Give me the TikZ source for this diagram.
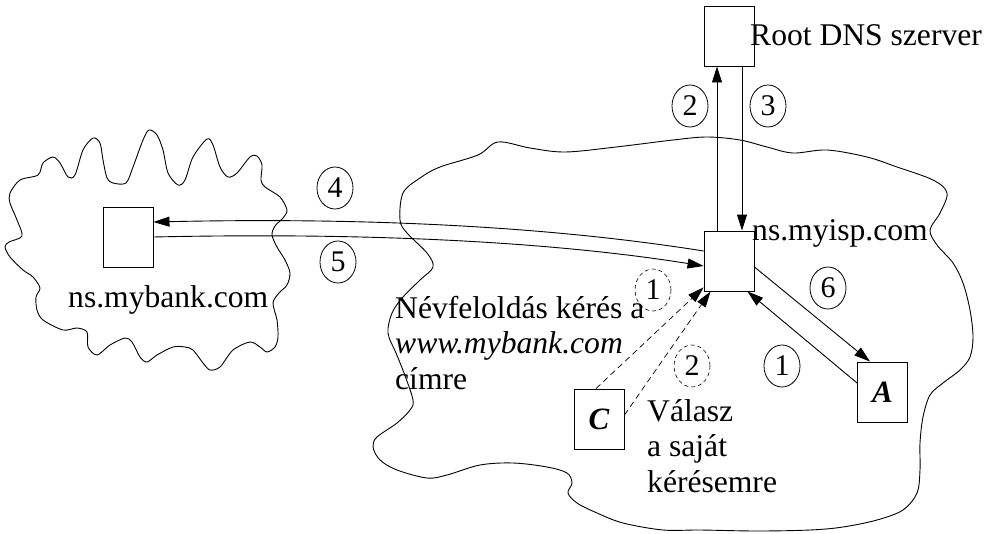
\documentclass[tikz,border=0pt]{standalone}
\usepackage{fontspec}
\setmainfont{Liberation Serif}
\usetikzlibrary{arrows.meta,calc,shapes.geometric}

\tikzset{
  txt/.style={inner sep=0pt, font=\fontsize{31.6}{35.5}\selectfont},
  server/.style={draw, line width=0.9pt, minimum width=50pt, minimum height=60pt, inner sep=0pt},
  host/.style={server, font=\fontsize{31}{31}\selectfont\bfseries\itshape},
  numc/.style={draw, ellipse, line width=0.8pt, minimum width=36pt, minimum height=42pt, inner sep=0pt,
               font=\fontsize{30}{30}\selectfont},
  dnumc/.style={numc, dash pattern=on 4pt off 3pt, line width=0.6pt},
  link/.style={line width=0.9pt, -{Triangle[length=16pt,width=10pt]}},
  dlink/.style={line width=0.7pt, dash pattern=on 6pt off 4pt, -{Triangle[length=16pt,width=10pt]}}
}

\begin{document}
\begin{tikzpicture}[x=1pt,y=-1pt]
\useasboundingbox (0,0) rectangle (996,533);

% provider network
\draw[line width=0.9pt] plot[smooth cycle, tension=0.55] coordinates {
  (440,167) (478,155) (498,142) (530,148) (565,152) (616,147) (673,140) (707,137)
  (740,140) (767,147) (793,153) (827,150) (867,157) (897,167) (933,180) (947,193)
  (940,213) (930,230) (937,245) (953,263) (963,283) (970,310) (973,337) (970,357)
  (960,370) (943,383) (930,395) (923,417) (920,443) (920,470) (917,493) (903,510)
  (877,520) (843,527) (810,530) (757,531) (700,530) (663,530) (623,523) (597,513)
  (577,503) (568,493) (572,483) (567,473) (547,467) (513,463) (480,465) (447,475)
  (427,478) (397,470) (380,460) (373,447) (377,437) (397,423) (410,410) (413,400)
  (404,373) (396,353) (388,333) (392,313) (403,297) (420,280) (433,267) (427,253)
  (407,233) (400,220) (403,193) (420,178)};

% bank network
\draw[line width=0.9pt] plot[smooth cycle, tension=0.5] coordinates {
  (10,193) (20,180) (38,175) (43,163) (53,157) (60,163) (68,177) (75,175)
  (83,150) (93,138) (100,143) (103,160) (107,178) (113,183) (126,183) (133,167)
  (143,140) (149,130) (157,135) (163,150) (168,173) (178,185) (185,180) (193,157)
  (207,139) (213,145) (220,167) (228,177) (237,173) (250,157) (257,156) (262,165)
  (261,180) (265,187) (280,197) (287,210) (283,218) (275,226) (272,235) (277,247)
  (285,260) (290,273) (287,285) (279,293) (273,303) (277,320) (278,337) (275,347)
  (267,352) (260,347) (250,342) (233,350) (220,367) (210,370) (203,363) (193,350)
  (185,347) (173,347) (157,355) (147,362) (140,357) (132,342) (125,338) (110,345)
  (97,355) (88,347) (87,332) (77,328) (63,330) (43,320) (37,310) (36,297)
  (40,288) (33,277) (23,270) (10,257) (5,247) (9,242) (22,236) (17,220) (10,203)};

% servers and hosts
\node[server] (root) at (729,36) {};
\node[server] (isp)  at (729,261) {};
\node[server] (bank) at (128,237) {};
\node[host]   (A)    at (882.5,392) {A};
\node[host]   (C)    at (599,419) {C};

% labels (multi-line nodes are placed by the baseline of their last line)
\node[txt, anchor=base west] (lroot) at (750,45) {Root DNS szerver};
\node[txt, anchor=base west] (lisp)  at (752,240) {ns.myisp.com};
\node[txt, anchor=base west] (lbank) at (68,307) {ns.mybank.com};
\node[txt, anchor=base west, align=left] (lreq) at (395,389)
  {Névfeloldás kérés a\\\textit{www.mybank.com}\\címre};
\node[txt, anchor=base west, align=left] (lans) at (647,492)
  {Válasz\\a saját\\kérésemre};

% step numbers
\node[numc]  (n2)  at (690,106) {2};
\node[numc]  (n3)  at (768,106) {3};
\node[numc]  (n4)  at (335,188) {4};
\node[numc]  (n5)  at (338,262) {5};
\node[numc]  (n6)  at (828,288) {6};
\node[numc]  (n1)  at (782,366) {1};
\node[dnumc] (d1)  at (653,290) {1};
\node[dnumc] (d2)  at (692,366) {2};

% queries and answers
\draw[link] ($(isp.north)+(-12,0)$) -- ($(root.south)+(-12,0)$);
\draw[link] ($(root.south)+(13,0)$) -- ($(isp.north)+(13,0)$);
\draw[link] ($(isp.west)+(0,-10)$) .. controls +(-144,-23) and +(227,-5) .. ($(bank.east)+(0,-15)$);
\draw[link] (bank.east) .. controls +(227,-5) and +(-144,-23) .. ($(isp.west)+(0,5)$);
\draw[link] ($(isp.east)+(0,6)$) -- ($(A.north)+(-12.5,0)$);
\draw[link] ($(A.west)+(0,-9)$) -- ($(isp.south east)+(-7,0)$);
\draw[dlink] ($(C.north)+(-3,0)$) -- ($(isp.south west)+(0,-4)$);
\draw[dlink] ($(C.east)+(0,-4)$) -- ($(isp.south west)+(7,0)$);
\end{tikzpicture}
\end{document}
